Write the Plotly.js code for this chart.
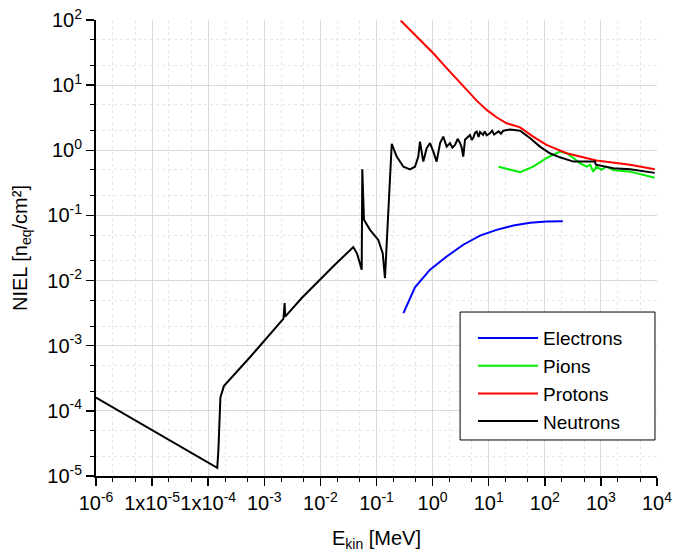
<!DOCTYPE html>
<html>
<head>
<meta charset="utf-8">
<script src="https://cdn.plot.ly/plotly-3.0.1.min.js"></script>
<style>html,body{margin:0;padding:0;background:#fff;}#chart{width:673px;height:556px;}</style>
</head>
<body>
<div id="chart"></div>
<script>
// Energies in MeV, NIEL in n_eq/cm^2
const electronE = [0.302, 0.485, 0.9, 1.78, 3.52, 7.0, 13.8, 27.5, 55, 107, 209];
const electronN = [0.00316, 0.0079, 0.0147, 0.0234, 0.0355, 0.049, 0.060, 0.070, 0.077, 0.081, 0.0817];

const pionE = [15, 36.3, 62, 107, 186, 245, 324, 427, 562, 646, 726, 832, 1023, 1259, 1660, 3310, 9120];
const pionN = [0.56, 0.46, 0.56, 0.76, 0.955, 0.90, 0.76, 0.63, 0.56, 0.60, 0.47, 0.56, 0.50, 0.56, 0.50, 0.47, 0.38];

const protonE = [0.27, 0.45, 1.03, 1.78, 3.52, 6.11, 9.2, 13.8, 20.9, 36.3, 62, 107, 245, 832, 3310, 9120];
const protonN = [98, 62.5, 30.9, 18.2, 9.5, 5.78, 4.17, 3.21, 2.6, 2.25, 1.62, 1.21, 0.90, 0.695, 0.60, 0.51];

const neutronE = [1e-6, 1.45e-4, 1.52e-4, 1.58e-4, 1.65e-4, 1.9e-4, 5.6e-4, 2.2e-3, 2.3e-3, 2.36e-3,
  4.65e-3, 1.7e-2, 2.57e-2, 3.86e-2, 4.5e-2, 5.2e-2, 5.45e-2, 5.58e-2, 5.98e-2, 7.66e-2,
  0.1076, 0.129, 0.1416, 0.187, 0.229, 0.302, 0.395, 0.485, 0.556, 0.596,
  0.682, 0.785, 0.9, 1.03, 1.18, 1.36, 1.55, 1.78, 2.04, 2.25,
  2.51, 2.8, 3.09, 3.3, 3.52, 3.78, 4.2, 4.63, 5.0, 5.31,
  5.7, 6.11, 6.6, 7.0, 7.94, 8.5, 9.2, 10.5, 11.5, 12.5,
  13.8, 15, 16.5, 18.2, 24, 36.3, 55, 82, 123, 186,
  324, 785, 813, 1660, 3310, 9120];
const neutronN = [1.6e-4, 1.33e-5, 2.5e-5, 8e-5, 1.6e-4, 2.4e-4, 6.7e-4, 2.6e-3, 4.5e-3, 2.8e-3,
  5.4e-3, 1.66e-2, 2.34e-2, 3.27e-2, 2.6e-2, 1.6e-2, 1.47e-2, 0.51, 8.6e-2, 6.0e-2,
  4.2e-2, 2.64e-2, 1.09e-2, 1.26, 0.80, 0.56, 0.51, 0.56, 0.80, 1.36,
  0.67, 1.08, 1.29, 0.955, 0.67, 1.29, 1.62, 1.14, 1.29, 1.1,
  1.21, 1.5, 1.29, 1.1, 0.80, 1.45, 1.6, 1.72, 1.45, 1.55,
  1.85, 1.94, 1.6, 1.9, 1.72, 1.95, 1.7, 1.82, 2.0, 1.75,
  1.86, 1.95, 1.8, 2.0, 2.09, 2.0, 1.53, 1.14, 0.90, 0.78,
  0.67, 0.67, 0.60, 0.53, 0.51, 0.45];

const xTickVals = [1e-6, 1e-5, 1e-4, 1e-3, 1e-2, 1e-1, 1, 10, 100, 1000, 10000];
const xTickText = ['10<sup>-6</sup>', '1x10<sup>-5</sup>', '1x10<sup>-4</sup>', '10<sup>-3</sup>', '10<sup>-2</sup>', '10<sup>-1</sup>', '10<sup>0</sup>', '10<sup>1</sup>', '10<sup>2</sup>', '10<sup>3</sup>', '10<sup>4</sup>'];
const yTickVals = [1e-5, 1e-4, 1e-3, 1e-2, 1e-1, 1, 10, 100];
const yTickText = ['10<sup>-5</sup>', '10<sup>-4</sup>', '10<sup>-3</sup>', '10<sup>-2</sup>', '10<sup>-1</sup>', '10<sup>0</sup>', '10<sup>1</sup>', '10<sup>2</sup>'];

const seriesNames = ['Electrons', 'Pions', 'Protons', 'Neutrons'];
const seriesColors = ['#0000ff', '#00ee00', '#ff0000', '#000000'];
const seriesX = [electronE, pionE, protonE, neutronE];
const seriesY = [electronN, pionN, protonN, neutronN];

const traces = seriesNames.map((n, i) => ({
  x: seriesX[i], y: seriesY[i], name: n, type: 'scatter', mode: 'lines',
  line: {color: seriesColors[i], width: 2}
}));

const font = 'Arial, "Liberation Sans", sans-serif';
const axisCommon = {
  type: 'log', showline: true, linecolor: '#000', linewidth: 2, mirror: false,
  ticks: 'outside', ticklen: 8, tickwidth: 1.5, tickcolor: '#000', tickangle: 0,
  showgrid: true, gridcolor: '#d9d9d9', gridwidth: 1, zeroline: false,
  tickfont: {family: font, size: 20, color: '#000'},
  minor: {ticks: 'outside', ticklen: 4, tickwidth: 1, tickcolor: '#000', showgrid: true, gridcolor: '#e6e6e6', griddash: 'dot', gridwidth: 1}
};

const layout = {
  width: 673, height: 556,
  margin: {l: 96, r: 16, t: 20, b: 80},
  paper_bgcolor: '#fff', plot_bgcolor: '#fff',
  font: {family: font, color: '#000'},
  showlegend: true,
  xaxis: Object.assign({}, axisCommon, {
    range: [-6, 4], tickmode: 'array', tickvals: xTickVals, ticktext: xTickText,
    title: {text: 'E<sub>kin</sub> [MeV]', font: {family: font, size: 20}, standoff: 18}
  }),
  yaxis: Object.assign({}, axisCommon, {
    range: [-5, 2], tickmode: 'array', tickvals: yTickVals, ticktext: yTickText,
    title: {text: 'NIEL [n<sub>eq</sub>/cm²]', font: {family: font, size: 20}, standoff: 14}
  }),
  shapes: [{
    type: 'rect', xref: 'paper', yref: 'paper', layer: 'above',
    x0: 0.649, x1: 0.9964, y0: 0.079, y1: 0.3596,
    line: {color: '#000', width: 1}, fillcolor: '#fff'
  }],
  legend: {
    x: 0.672, y: 0.344, xanchor: 'left', yanchor: 'top',
    bgcolor: 'rgba(0,0,0,0)', borderwidth: 0,
    font: {family: font, size: 19, color: '#000'},
    tracegroupgap: 0, itemwidth: 60
  }
};

Plotly.newPlot('chart', traces, layout, {staticPlot: true, displayModeBar: false});
</script>
</body>
</html>
